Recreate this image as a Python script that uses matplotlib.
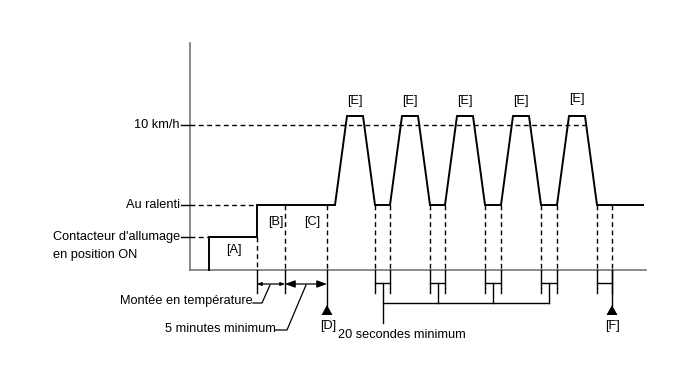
import matplotlib.pyplot as plt

plt.rcParams['font.family'] = ['Liberation Sans', 'DejaVu Sans']

# levels (pixel rows of the diagram)
lvl_names = ['10 km/h', 'Au ralenti', "Contacteur d'allumage"]
y_base = 270
y_on = 237
y_idle = 205
y_10 = 125
y_top = 116

# timeline points (pixel columns)
t_on = 209
t_b = 257
t_c = 285
t_d = 327
rise_start = [335, 390, 445, 501, 557]
rise_end = [347, 402, 457, 513, 569]
fall_start = [363, 418, 473, 529, 585]
fall_end = [375, 430, 485, 541, 597]
flat_end = [390, 445, 501, 557, 612]
t_stop = 643
e_labels = ['[E]'] * 5

fig = plt.figure(figsize=(6.88, 3.66), dpi=100)
ax = fig.add_axes([0, 0, 1, 1])
ax.set_xlim(0, 688)
ax.set_ylim(366, 0)
ax.axis('off')

fs = 9.2
gray = '#777777'
k = 'black'
lw = 1.4
dash = dict(color=k, lw=1.0, ls=(0, (3.5, 2.5)))

# axes
ax.plot([190, 190], [43, y_base], color=gray, lw=1.2)
ax.plot([190, 646], [y_base, y_base], color=gray, lw=1.2)
for y in [y_10, y_idle, y_on]:
    ax.plot([181, 190], [y, y], color=k, lw=1.0)

# level labels
ax.text(180, y_10, lvl_names[0], ha='right', va='center', fontsize=fs)
ax.text(180, y_idle, lvl_names[1], ha='right', va='center', fontsize=fs)
ax.text(53, y_on, lvl_names[2], ha='left', va='center', fontsize=fs)
ax.text(53, 255, 'en position ON', ha='left', va='center', fontsize=fs)

# horizontal dashed guide lines
ax.plot([190, fall_start[-1]], [y_10, y_10], **dash)
ax.plot([190, t_b], [y_idle, y_idle], **dash)
ax.plot([190, t_on], [y_on, y_on], **dash)

# waveform
xs = [t_on, t_on, t_b, t_b]
ys = [y_base, y_on, y_on, y_idle]
for rs, re, fs_, fe, ft in zip(rise_start, rise_end, fall_start, fall_end, flat_end):
    xs += [rs, re, fs_, fe]
    ys += [y_idle, y_top, y_top, y_idle]
xs += [t_stop]
ys += [y_idle]
ax.plot(xs, ys, color=k, lw=lw, solid_joinstyle='miter')

# vertical dashed lines
ax.plot([t_b, t_b], [y_on, y_base], **dash)
for x in [t_c, t_d]:
    ax.plot([x, x], [y_idle, y_base], **dash)
for a, b in zip(fall_end, flat_end):
    ax.plot([a, a], [y_idle, y_base], **dash)
    ax.plot([b, b], [y_idle, y_base], **dash)

# labels in diagram
ax.text(234, 250, '[A]', ha='center', va='center', fontsize=fs)
ax.text(276, 222, '[B]', ha='center', va='center', fontsize=fs)
ax.text(312, 222, '[C]', ha='center', va='center', fontsize=fs)
for i, (re, fs_) in enumerate(zip(rise_end, fall_start)):
    ax.text((re + fs_) / 2 - 0.5, 101 if i < 4 else 99, e_labels[i],
            ha='center', va='center', fontsize=fs)

# below-axis marks
for x in [t_b, t_c]:
    ax.plot([x, x], [y_base, 293], color=k, lw=1.0)
ax.annotate('', xy=(t_b, 284), xytext=(t_c, 284),
            arrowprops=dict(arrowstyle='<|-|>,head_length=0.25,head_width=0.1',
                            color=k, lw=0.9, shrinkA=0, shrinkB=0))
ax.annotate('', xy=(t_c, 284), xytext=(t_d, 284),
            arrowprops=dict(arrowstyle='<|-|>,head_length=0.6,head_width=0.22',
                            color=k, lw=0.9, shrinkA=0, shrinkB=0))
ax.plot([253, 262, 270], [303, 303, 285], color=k, lw=0.9)
ax.plot([275, 287, 306], [330, 330, 285], color=k, lw=0.9)
ax.text(253, 301, 'Montée en température', ha='right', va='center', fontsize=fs)
ax.text(276, 329, '5 minutes minimum', ha='right', va='center', fontsize=fs)

# D marker
ax.plot([t_d, t_d], [y_base, 306], color=k, lw=1.0)
ax.fill([t_d - 5.5, t_d + 5.5, t_d], [315, 315, 305], color=k, lw=0)
ax.text(t_d + 1, 326, '[D]', ha='center', va='center', fontsize=fs)
ax.text(338, 335, '20 secondes minimum', ha='left', va='center', fontsize=fs)

# E brackets
mids = []
for a, b in zip(fall_end, flat_end):
    ax.plot([a, a], [y_base, 293], color=k, lw=1.0)
    ax.plot([b, b], [y_base, 293], color=k, lw=1.0)
    ax.plot([a, b], [283, 283], color=k, lw=1.0)
    mids.append((a + b) / 2)
ax.plot([mids[0], mids[0]], [283, 323], color=k, lw=1.0)
for m in mids[1:4]:
    ax.plot([m, m], [283, 303], color=k, lw=1.0)
ax.plot([mids[0], mids[3]], [303, 303], color=k, lw=1.0)

# F marker
tf = flat_end[-1]
ax.plot([tf, tf], [y_base, 306], color=k, lw=1.0)
ax.fill([tf - 5.5, tf + 5.5, tf], [315, 315, 305], color=k, lw=0)
ax.text(tf + 1, 326, '[F]', ha='center', va='center', fontsize=fs)

fig.savefig('out.png', dpi=100)
